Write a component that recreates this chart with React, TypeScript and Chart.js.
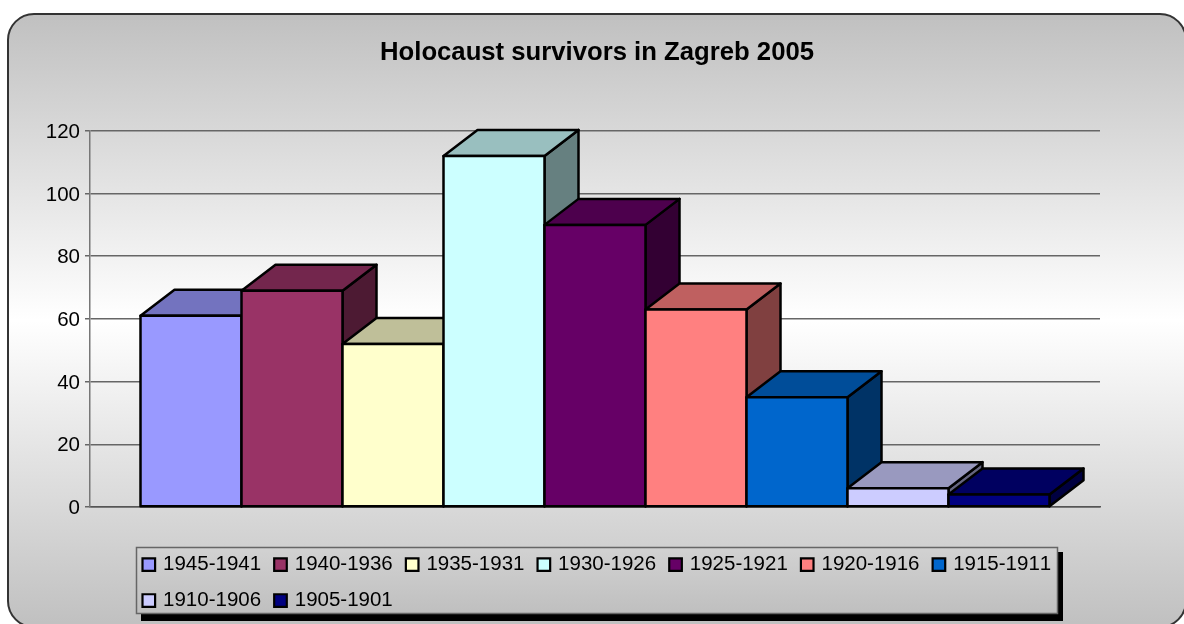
import React, { useEffect, useRef } from "react";
import { Chart, registerables } from "chart.js";

Chart.register(...registerables);

const chartTitle = "Holocaust survivors in Zagreb 2005";
const category = [""];
const periods = ["1945-1941","1940-1936","1935-1931","1930-1926","1925-1921","1920-1916","1915-1911","1910-1906","1905-1901"];
const survivors = [61, 69, 52, 112, 90, 63, 35, 6, 4];
const frontColors = ["#9999FF","#993366","#FFFFCC","#CCFFFF","#660066","#FF8080","#0066CC","#CCCCFF","#000080"];
const FONT = "Arial, 'Liberation Sans', sans-serif";

function shade(hex: string, k: number) {
  const n = parseInt(hex.slice(1), 16);
  return `rgb(${Math.round(((n >> 16) & 255) * k)},${Math.round(((n >> 8) & 255) * k)},${Math.round((n & 255) * k)})`;
}

function poly(ctx: CanvasRenderingContext2D, pts: number[][], fill: string) {
  ctx.beginPath();
  pts.forEach((p, i) => (i ? ctx.lineTo(p[0], p[1]) : ctx.moveTo(p[0], p[1])));
  ctx.closePath();
  ctx.fillStyle = fill;
  ctx.fill();
  ctx.stroke();
}

const DEPTH_X = 34;
const DEPTH_Y = 26;

const panelPlugin = {
  id: "panel",
  beforeLayout(chart: any) {
    chart.ctx.fontKerning = "none";
  },
  afterLayout(chart: any) {
    const lg = chart.legend;
    const w = lg.right - lg.left;
    lg.left = 129.4;
    lg.right = 129.4 + w;
    lg.top = 539;
    lg.bottom = 624;
    lg.height = 85;
    chart.titleBlock.left += 2;
    chart.titleBlock.right += 2;
  },
  beforeDraw(chart: any) {
    const { ctx } = chart;
    ctx.fontKerning = "none";
    ctx.save();
    const g = ctx.createLinearGradient(0, 14, 0, 627);
    g.addColorStop(0, "#C0C0C0");
    g.addColorStop(0.5, "#FFFFFF");
    g.addColorStop(1, "#C0C0C0");
    ctx.beginPath();
    ctx.roundRect(8, 14, 1178, 613, 26);
    ctx.fillStyle = g;
    ctx.fill();
    ctx.lineWidth = 2;
    ctx.strokeStyle = "#333333";
    ctx.stroke();
    // legend frame and its shadow
    const x = 136, y = 547, w = 922, h = 67;
    ctx.fillStyle = "#000000";
    ctx.fillRect(x + 5, y + 5, w, h + 2);
    const lg2 = ctx.createLinearGradient(0, y, 0, y + h);
    lg2.addColorStop(0, "#D2D2D2");
    lg2.addColorStop(1, "#BFBFBF");
    ctx.fillStyle = lg2;
    ctx.fillRect(x, y, w, h);
    ctx.strokeStyle = "#666666";
    ctx.lineWidth = 1.5;
    ctx.strokeRect(x + 0.5, y + 0.5, w - 1, h - 1);
    ctx.restore();
  },
  afterDatasetsDraw(chart: any) {
    const { ctx } = chart;
    ctx.save();
    ctx.strokeStyle = "#000000";
    ctx.lineWidth = 2.5;
    ctx.lineJoin = "round";
    chart.data.datasets.forEach((ds: any, i: number) => {
      const bar = chart.getDatasetMeta(i).data[0];
      const { x, y, width, base } = bar.getProps(["x", "y", "width", "base"], true);
      const l = x - width / 2;
      const r = x + width / 2;
      poly(ctx, [[r, y], [r + DEPTH_X, y - DEPTH_Y], [r + DEPTH_X, base - DEPTH_Y], [r, base]], shade(ds.backgroundColor, 0.5));
      poly(ctx, [[l, y], [l + DEPTH_X, y - DEPTH_Y], [r + DEPTH_X, y - DEPTH_Y], [r, y]], shade(ds.backgroundColor, 0.75));
      poly(ctx, [[l, y], [r, y], [r, base], [l, base]], ds.backgroundColor);
    });
    ctx.restore();
  },
};

export default function App() {
  const ref = useRef<HTMLCanvasElement>(null);
  useEffect(() => {
    const chart = new Chart(ref.current as HTMLCanvasElement, {
      type: "bar",
      data: {
        labels: category,
        datasets: periods.map((label, i) => ({
          label,
          data: [survivors[i]],
          backgroundColor: frontColors[i],
          borderColor: "#000000",
          borderWidth: 0,
          barPercentage: 1,
          categoryPercentage: 0.9,
        })),
      },
      options: {
        animation: false,
        responsive: false,
        layout: { padding: { left: 0, right: 84, top: 37, bottom: 27.2 } },
        scales: {
          x: {
            grid: { display: false },
            border: { display: true, color: "#555555", width: 1.5 },
            ticks: { display: false },
          },
          y: {
            min: 0,
            max: 120,
            afterFit(axis: any) { axis.width = 90; },
            grid: { color: "#666666", tickLength: 5, lineWidth: 1.5 },
            border: { color: "#777777", width: 1.5 },
            ticks: {
              stepSize: 20,
              padding: 5,
              labelOffset: 1.5,
              color: "#000000",
              font: { family: FONT, size: 20.5 },
            },
          },
        },
        plugins: {
          tooltip: { enabled: false },
          title: {
            display: true,
            text: chartTitle,
            fullSize: false,
            color: "#000000",
            font: { family: FONT, size: 25.7, weight: "bold" },
            padding: { top: 0, bottom: 63 },
          },
          legend: {
            display: true,
            position: "bottom",
            align: "start",
            fullSize: false,
            labels: {
              usePointStyle: true,
              pointStyle: "rect",
              boxWidth: 8,
              boxHeight: 12.6,
              padding: 15.4,
              color: "#000000",
              font: { family: FONT, size: 20.5, lineHeight: 18.6 / 20.5 },
              generateLabels: () =>
                periods.map((text, i) => ({
                  text,
                  fillStyle: frontColors[i],
                  strokeStyle: "#000000",
                  lineWidth: 2.2,
                  pointStyle: "rect",
                  datasetIndex: i,
                })),
            },
          },
        },
      },
      plugins: [panelPlugin],
    } as any);
    return () => chart.destroy();
  }, []);
  return (
    <div style={{ position: "fixed", left: 0, top: 0, width: 1184, height: 624, background: "#fff" }}>
      <canvas ref={ref} width={1184} height={624} style={{ display: "block" }} />
    </div>
  );
}
